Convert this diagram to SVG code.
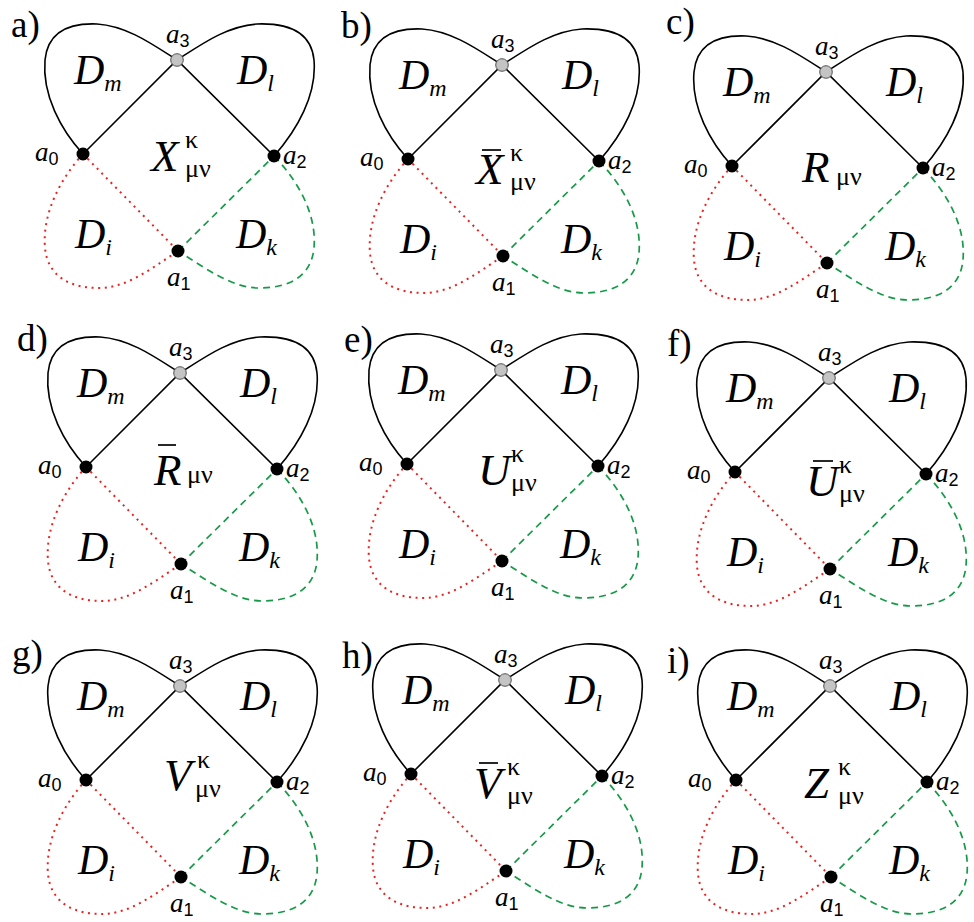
<svg xmlns="http://www.w3.org/2000/svg" xmlns:xlink="http://www.w3.org/1999/xlink" width="974" height="922" viewBox="0 0 974 922">
<style>
.bk{fill:none;stroke:#000;stroke-width:1.6}
.rd{fill:none;stroke:#e8231f;stroke-width:2;stroke-dasharray:2 4.6}
.gn{fill:none;stroke:#179a48;stroke-width:1.7;stroke-dasharray:7 5}
.dot{fill:#000}
.gry{fill:#c4c4c4;stroke:#444;stroke-width:0.9}
.pl{font-family:"Liberation Serif",serif;font-size:37px;fill:#000}
.an{font-family:"Liberation Serif",serif;font-style:italic;font-size:27px;fill:#000}
.sd{font-family:"Liberation Sans",sans-serif;font-style:normal;font-size:18px}
.D{font-family:"Liberation Serif",serif;font-style:italic;font-size:42px;fill:#000}
.ds{font-size:24px}
.C{font-family:"Liberation Serif",serif;font-style:italic;font-size:45px;fill:#000}
.g{font-family:"Liberation Serif",serif;font-style:normal;font-size:26px;fill:#000}
.bar{stroke:#000;stroke-width:1.7}
</style>
<defs>
<g id="edges">
<path class="bk" d="M -94,94 C -116,70 -135,35 -132,0 C -129,-30 -105,-37 -80,-36 C -50,-34 -25,-16 0,0"/>
<path class="bk" d="M -94,94 L 0,0 L 97,96"/>
<path class="bk" d="M 0,0 C 25,-16 50,-34 80,-36 C 108,-37 134,-30 137,0 C 140,35 120,70 97,96"/>
<path class="rd" d="M -94,94 L 1,191"/>
<path class="rd" d="M -94,94 C -116,118 -135,153 -132,188 C -129,218 -105,228 -78,228 C -50,228 -25,208 1,191"/>
<path class="gn" d="M 1,191 L 97,96"/>
<path class="gn" d="M 97,96 C 120,120 140,153 137,188 C 134,218 110,228 82,228 C 55,228 28,208 1,191"/>
</g>
<g id="nodes">
<g id="node-a3"><circle class="gry" cx="0" cy="0" r="6.3"/><text class="an" x="-11" y="-17">a<tspan class="sd" dy="4">3</tspan></text></g>
<g id="node-a0"><circle class="dot" cx="-94" cy="94" r="6.5"/><text class="an" x="-142" y="101">a<tspan class="sd" dy="4">0</tspan></text></g>
<g id="node-a2"><circle class="dot" cx="97" cy="96" r="6.5"/><text class="an" x="106" y="104">a<tspan class="sd" dy="4">2</tspan></text></g>
<g id="node-a1"><circle class="dot" cx="1" cy="191" r="6.5"/><text class="an" x="-10" y="226">a<tspan class="sd" dy="4">1</tspan></text></g>
<text class="D" x="-103" y="24">D<tspan class="ds" dy="7">m</tspan></text>
<text class="D" x="60" y="24">D<tspan class="ds" dy="7">l</tspan></text>
<text class="D" x="-102" y="188">D<tspan class="ds" dy="7">i</tspan></text>
<text class="D" x="59" y="188">D<tspan class="ds" dy="7">k</tspan></text>
</g>
</defs>

<g id="labels">
<text class="pl" x="11" y="37">a)</text>
<text class="pl" x="341" y="38">b)</text>
<text class="pl" x="666" y="34">c)</text>
<text class="pl" x="17" y="351">d)</text>
<text class="pl" x="344" y="352">e)</text>
<text class="pl" x="667" y="356">f)</text>
<text class="pl" x="12" y="666">g)</text>
<text class="pl" x="342" y="668">h)</text>
<text class="pl" x="667" y="673">i)</text>
</g>

<g id="connectors">
<use xlink:href="#edges" transform="translate(177,60)"/>
<use xlink:href="#edges" transform="translate(502,65)"/>
<use xlink:href="#edges" transform="translate(826,72)"/>
<use xlink:href="#edges" transform="translate(180,373)"/>
<use xlink:href="#edges" transform="translate(501,370)"/>
<use xlink:href="#edges" transform="translate(829,378)"/>
<use xlink:href="#edges" transform="translate(180,686)"/>
<use xlink:href="#edges" transform="translate(505,680)"/>
<use xlink:href="#edges" transform="translate(830,686)"/>
</g>

<g id="panel-a" transform="translate(177,60)">
<use xlink:href="#nodes"/>
<g id="center-a"><text class="C" x="-26" y="111">X</text><text class="g" x="8" y="88">κ</text><text class="g" x="8" y="117">μν</text></g>
</g>
<g id="panel-b" transform="translate(502,65)">
<use xlink:href="#nodes"/>
<g id="center-b"><line class="bar" x1="-20" y1="85" x2="-1" y2="85"/><text class="C" x="-26" y="119">X</text><text class="g" x="8" y="96">κ</text><text class="g" x="8" y="125">μν</text></g>
</g>
<g id="panel-c" transform="translate(826,72)">
<use xlink:href="#nodes"/>
<g id="center-c"><text class="C" x="-24" y="110">R</text><text class="g" x="10" y="113">μν</text></g>
</g>
<g id="panel-d" transform="translate(180,373)">
<use xlink:href="#nodes"/>
<g id="center-d"><line class="bar" x1="-22" y1="72" x2="-4" y2="72"/><text class="C" x="-26" y="112">R</text><text class="g" x="7" y="110">μν</text></g>
</g>
<g id="panel-e" transform="translate(501,370)">
<use xlink:href="#nodes"/>
<g id="center-e"><text class="C" x="-23" y="115">U</text><text class="g" x="10" y="92">κ</text><text class="g" x="10" y="121">μν</text></g>
</g>
<g id="panel-f" transform="translate(829,378)">
<use xlink:href="#nodes"/>
<g id="center-f"><line class="bar" x1="-16" y1="83" x2="4" y2="83"/><text class="C" x="-23" y="118">U</text><text class="g" x="10" y="95">κ</text><text class="g" x="10" y="124">μν</text></g>
</g>
<g id="panel-g" transform="translate(180,686)">
<use xlink:href="#nodes"/>
<g id="center-g"><text class="C" x="-16" y="104">V</text><text class="g" x="17" y="82">κ</text><text class="g" x="15" y="111">μν</text></g>
</g>
<g id="panel-h" transform="translate(505,680)">
<use xlink:href="#nodes"/>
<g id="center-h"><line class="bar" x1="-26" y1="83" x2="-7" y2="83"/><text class="C" x="-31" y="118">V</text><text class="g" x="2" y="95">κ</text><text class="g" x="2" y="124">μν</text></g>
</g>
<g id="panel-i" transform="translate(830,686)">
<use xlink:href="#nodes"/>
<g id="center-i"><text class="C" x="-26" y="112">Z</text><text class="g" x="8" y="89">κ</text><text class="g" x="8" y="118">μν</text></g>
</g>
</svg>
